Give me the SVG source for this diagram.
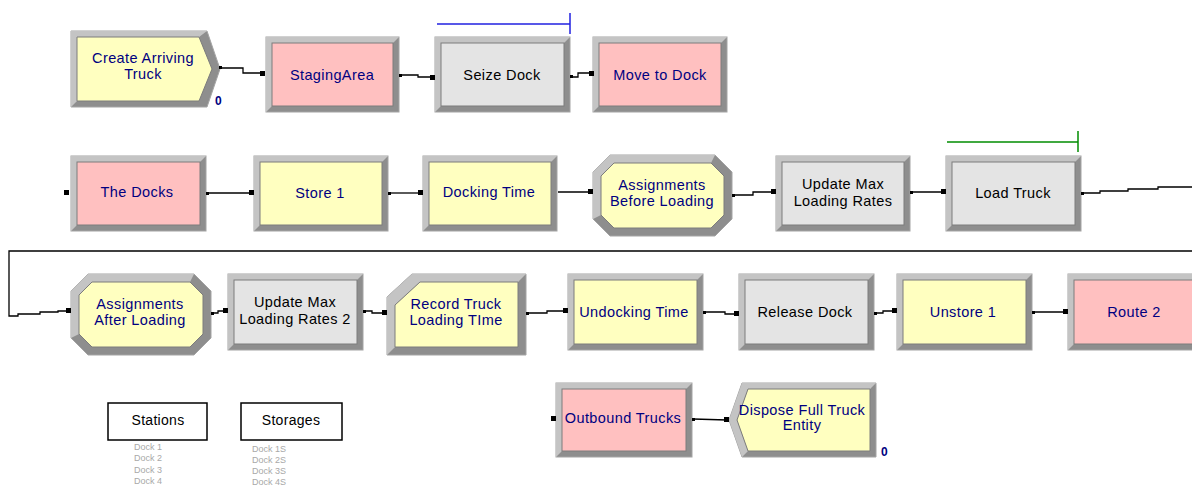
<svg xmlns="http://www.w3.org/2000/svg" width="1192" height="486" viewBox="0 0 1192 486">
<style>
.bg{fill:#ffffff}
.dk{fill:#8e8e8e;stroke:#a4a4a4;stroke-width:1}
.lt{fill:#c4c4c4}
.y{fill:#ffffc0;stroke:#7c7c7c;stroke-width:1}
.p{fill:#ffc0c0;stroke:#7c7c7c;stroke-width:1}
.g{fill:#e4e4e4;stroke:#7c7c7c;stroke-width:1}
.t{font-family:"Liberation Sans",Arial,sans-serif;font-size:14.5px;letter-spacing:0.4px;text-anchor:middle;fill:#000080}
.k{fill:#000000}
.z{font-family:"Liberation Sans",Arial,sans-serif;font-size:12px;font-weight:bold;fill:#000080}
.c{fill:none;stroke:#000000;stroke-width:1.3}
.en{fill:#000000}
.ex{fill:#000000}
.lb{fill:#ffffff;stroke:#000000;stroke-width:1.5}
.lt2{font-family:"Liberation Sans",Arial,sans-serif;font-size:14px;letter-spacing:0.3px;text-anchor:middle;fill:#000000}
.sm{font-family:"Liberation Sans",Arial,sans-serif;font-size:9px;fill:#a8a8a8}
</style>
<rect class="bg" x="0" y="0" width="1192" height="486"/>

<!-- resource / storage bars -->
<g id="seize-bar" stroke="#2020e0" stroke-width="1.5" fill="none">
<line x1="437" y1="24" x2="570" y2="24"/><line x1="570" y1="13" x2="570" y2="34"/>
</g>
<g id="load-bar" stroke="#008c00" stroke-width="1.5" fill="none">
<line x1="947" y1="142" x2="1078" y2="142"/><line x1="1078" y1="131" x2="1078" y2="152"/>
</g>

<!-- Row 1 -->
<g id="create-arriving-truck">
<polygon class="dk" points="71,31 207,31 220,69 207,107 71,107"/>
<polygon class="lt" points="71,107 71,31 207,31 199,37 77,37 77,101"/>
<polygon class="y" points="77,37 199,37 212,69 199,101 77,101"/>
<text class="t" x="143" y="63">Create Arriving</text>
<text class="t" x="143" y="79">Truck</text>
<text class="z" x="215" y="105">0</text>
</g>
<g id="staging-area">
<rect class="dk" x="266" y="37" width="133" height="75"/>
<polygon class="lt" points="266,112 266,37 399,37 393,43 272,43 272,106"/>
<rect class="p" x="272" y="43" width="121" height="63"/>
<text class="t" x="332" y="80">StagingArea</text>
</g>
<g id="seize-dock">
<rect class="dk" x="435" y="37" width="135" height="75"/>
<polygon class="lt" points="435,112 435,37 570,37 564,43 441,43 441,106"/>
<rect class="g" x="441" y="43" width="123" height="63"/>
<text class="t k" x="502" y="80">Seize Dock</text>
</g>
<g id="move-to-dock">
<rect class="dk" x="593" y="37" width="134" height="75"/>
<polygon class="lt" points="593,112 593,37 727,37 721,43 599,43 599,106"/>
<rect class="p" x="599" y="43" width="122" height="63"/>
<text class="t" x="660" y="80">Move to Dock</text>
</g>

<!-- Row 2 -->
<g id="the-docks">
<rect class="dk" x="71" y="156" width="135" height="75"/>
<polygon class="lt" points="71,231 71,156 206,156 200,162 77,162 77,225"/>
<rect class="p" x="77" y="162" width="123" height="63"/>
<text class="t" x="137" y="197">The Docks</text>
</g>
<g id="store-1">
<rect class="dk" x="254" y="156" width="134" height="75"/>
<polygon class="lt" points="254,231 254,156 388,156 382,162 260,162 260,225"/>
<rect class="y" x="260" y="162" width="122" height="63"/>
<text class="t" x="320" y="198">Store 1</text>
</g>
<g id="docking-time">
<rect class="dk" x="423" y="156" width="134" height="75"/>
<polygon class="lt" points="423,231 423,156 557,156 551,162 429,162 429,225"/>
<rect class="y" x="429" y="162" width="122" height="63"/>
<text class="t" x="489" y="197">Docking Time</text>
</g>
<g id="assignments-before-loading">
<polygon class="dk" points="610,155 715,155 732,172 732,219 715,236 610,236 593,219 593,172"/>
<polygon class="lt" points="593,219 593,172 610,155 715,155 711,163 614,163 601,176 601,215"/>
<polygon class="y" points="614,163 711,163 724,176 724,215 711,228 614,228 601,215 601,176"/>
<text class="t" x="662" y="190">Assignments</text>
<text class="t" x="662" y="206">Before Loading</text>
</g>
<g id="update-max-loading-rates">
<rect class="dk" x="776" y="156" width="134" height="75"/>
<polygon class="lt" points="776,231 776,156 910,156 904,162 782,162 782,225"/>
<rect class="g" x="782" y="162" width="122" height="63"/>
<text class="t k" x="843" y="189">Update Max</text>
<text class="t k" x="843" y="206">Loading Rates</text>
</g>
<g id="load-truck">
<rect class="dk" x="946" y="156" width="135" height="75"/>
<polygon class="lt" points="946,231 946,156 1081,156 1075,162 952,162 952,225"/>
<rect class="g" x="952" y="162" width="123" height="63"/>
<text class="t k" x="1013" y="198">Load Truck</text>
</g>

<!-- Row 3 -->
<g id="assignments-after-loading">
<polygon class="dk" points="88,274 194,274 211,291 211,338 194,355 88,355 71,338 71,291"/>
<polygon class="lt" points="71,338 71,291 88,274 194,274 190,282 92,282 79,295 79,334"/>
<polygon class="y" points="92,282 190,282 203,295 203,334 190,347 92,347 79,334 79,295"/>
<text class="t" x="140" y="309">Assignments</text>
<text class="t" x="140" y="325">After Loading</text>
</g>
<g id="update-max-loading-rates-2">
<rect class="dk" x="228" y="274" width="135" height="76"/>
<polygon class="lt" points="228,350 228,274 363,274 357,280 234,280 234,344"/>
<rect class="g" x="234" y="280" width="123" height="64"/>
<text class="t k" x="295" y="307">Update Max</text>
<text class="t k" x="295" y="324">Loading Rates 2</text>
</g>
<g id="record-truck-loading-time">
<polygon class="dk" points="412,274 526,274 526,355 387,355 387,297"/>
<polygon class="lt" points="387,355 387,297 412,274 526,274 518,282 420,282 395,305 395,347"/>
<polygon class="y" points="420,282 518,282 518,347 395,347 395,305"/>
<text class="t" x="456" y="309">Record Truck</text>
<text class="t" x="456" y="325">Loading TIme</text>
</g>
<g id="undocking-time">
<rect class="dk" x="568" y="274" width="135" height="76"/>
<polygon class="lt" points="568,350 568,274 703,274 697,280 574,280 574,344"/>
<rect class="y" x="574" y="280" width="123" height="64"/>
<text class="t" x="634" y="317">Undocking Time</text>
</g>
<g id="release-dock">
<rect class="dk" x="739" y="274" width="135" height="76"/>
<polygon class="lt" points="739,350 739,274 874,274 868,280 745,280 745,344"/>
<rect class="g" x="745" y="280" width="123" height="64"/>
<text class="t k" x="805" y="317">Release Dock</text>
</g>
<g id="unstore-1">
<rect class="dk" x="897" y="274" width="135" height="76"/>
<polygon class="lt" points="897,350 897,274 1032,274 1026,280 903,280 903,344"/>
<rect class="y" x="903" y="280" width="123" height="64"/>
<text class="t" x="963" y="317">Unstore 1</text>
</g>
<g id="route-2">
<rect class="dk" x="1068" y="274" width="135" height="76"/>
<polygon class="lt" points="1068,350 1068,274 1203,274 1197,280 1074,280 1074,344"/>
<rect class="p" x="1074" y="280" width="123" height="64"/>
<text class="t" x="1134" y="317">Route 2</text>
</g>

<!-- Row 4 -->
<g id="outbound-trucks">
<rect class="dk" x="556" y="383" width="136" height="74"/>
<polygon class="lt" points="556,457 556,383 692,383 686,389 562,389 562,451"/>
<rect class="p" x="562" y="389" width="124" height="62"/>
<text class="t" x="623" y="423">Outbound Trucks</text>
</g>
<g id="dispose-full-truck-entity">
<polygon class="dk" points="742,383 876,383 876,457 742,457 729,420"/>
<polygon class="lt" points="742,457 729,420 742,383 876,383 870,389 748,389 737,420 748,451"/>
<polygon class="y" points="748,389 870,389 870,451 748,451 737,420"/>
<text class="t" x="802" y="415">Dispose Full Truck</text>
<text class="t" x="802" y="430">Entity</text>
<text class="z" x="881" y="456">0</text>
</g>

<!-- Connectors -->
<g id="connectors">
<polyline class="c" points="220,68 243,68 243,73 262,73"/>
<polyline class="c" points="400,75 418,75 418,77 432,77"/>
<polyline class="c" points="571,77 578,77 578,73 592,73"/>
<polyline class="c" points="207,193 252,193"/>
<polyline class="c" points="389,193 421,193"/>
<polyline class="c" points="558,192 591,192"/>
<polyline class="c" points="733,195 753,195 753,192 774,192"/>
<polyline class="c" points="911,192 944,192"/>
<polyline class="c" points="1082,193 1100,193 1100,191 1128,191 1128,189 1158,189 1158,187 1192,187"/>
<polyline class="c" points="1192,251 9,251 9,316 18,316 18,314 40,314 40,312 58,312 58,311 69,311"/>
<polyline class="c" points="212,313 218,313 218,311 226,311"/>
<polyline class="c" points="364,311 372,311 372,313 385,313"/>
<polyline class="c" points="527,313 547,313 547,311 566,311"/>
<polyline class="c" points="704,312 725,312 725,314 737,314"/>
<polyline class="c" points="875,313 883,313 883,311 895,311"/>
<polyline class="c" points="1033,312 1066,312"/>
<polyline class="c" points="693,419 727,420"/>
<!-- entry points -->
<rect class="en" x="260" y="71" width="5" height="5"/>
<rect class="en" x="430" y="75" width="5" height="5"/>
<rect class="en" x="589" y="71" width="5" height="5"/>
<rect class="en" x="64" y="190" width="5" height="5"/>
<rect class="en" x="249" y="190" width="5" height="5"/>
<rect class="en" x="418" y="190" width="5" height="5"/>
<rect class="en" x="588" y="189" width="5" height="5"/>
<rect class="en" x="771" y="189" width="5" height="5"/>
<rect class="en" x="941" y="189" width="5" height="5"/>
<rect class="en" x="66" y="308" width="5" height="5"/>
<rect class="en" x="223" y="308" width="5" height="5"/>
<rect class="en" x="382" y="310" width="5" height="5"/>
<rect class="en" x="563" y="308" width="5" height="5"/>
<rect class="en" x="734" y="311" width="5" height="5"/>
<rect class="en" x="892" y="308" width="5" height="5"/>
<rect class="en" x="1063" y="309" width="5" height="5"/>
<rect class="en" x="551" y="416" width="5" height="5"/>
<rect class="en" x="724" y="417" width="5" height="5"/>
<!-- exit points -->
<rect class="ex" x="219" y="66" width="3" height="3"/>
<rect class="ex" x="399" y="74" width="3" height="3"/>
<rect class="ex" x="570" y="75" width="3" height="3"/>
<rect class="ex" x="206" y="192" width="3" height="3"/>
<rect class="ex" x="388" y="192" width="3" height="3"/>
<rect class="ex" x="732" y="194" width="3" height="3"/>
<rect class="ex" x="910" y="191" width="3" height="3"/>
<rect class="ex" x="1081" y="192" width="3" height="3"/>
<rect class="ex" x="211" y="312" width="3" height="3"/>
<rect class="ex" x="363" y="310" width="3" height="3"/>
<rect class="ex" x="526" y="312" width="3" height="3"/>
<rect class="ex" x="703" y="311" width="3" height="3"/>
<rect class="ex" x="874" y="312" width="3" height="3"/>
<rect class="ex" x="1032" y="311" width="3" height="3"/>
<rect class="ex" x="692" y="418" width="3" height="3"/>
</g>

<!-- Stations / Storages -->
<g id="stations">
<rect class="lb" x="108" y="403" width="99" height="37"/>
<text class="lt2" x="158" y="425">Stations</text>
<text class="sm" x="134" y="450">Dock 1</text>
<text class="sm" x="134" y="461">Dock 2</text>
<text class="sm" x="134" y="473">Dock 3</text>
<text class="sm" x="134" y="484">Dock 4</text>
</g>
<g id="storages">
<rect class="lb" x="241" y="403" width="101" height="37"/>
<text class="lt2" x="291" y="425">Storages</text>
<text class="sm" x="252" y="452">Dock 1S</text>
<text class="sm" x="252" y="463">Dock 2S</text>
<text class="sm" x="252" y="474">Dock 3S</text>
<text class="sm" x="252" y="485">Dock 4S</text>
</g>
</svg>
